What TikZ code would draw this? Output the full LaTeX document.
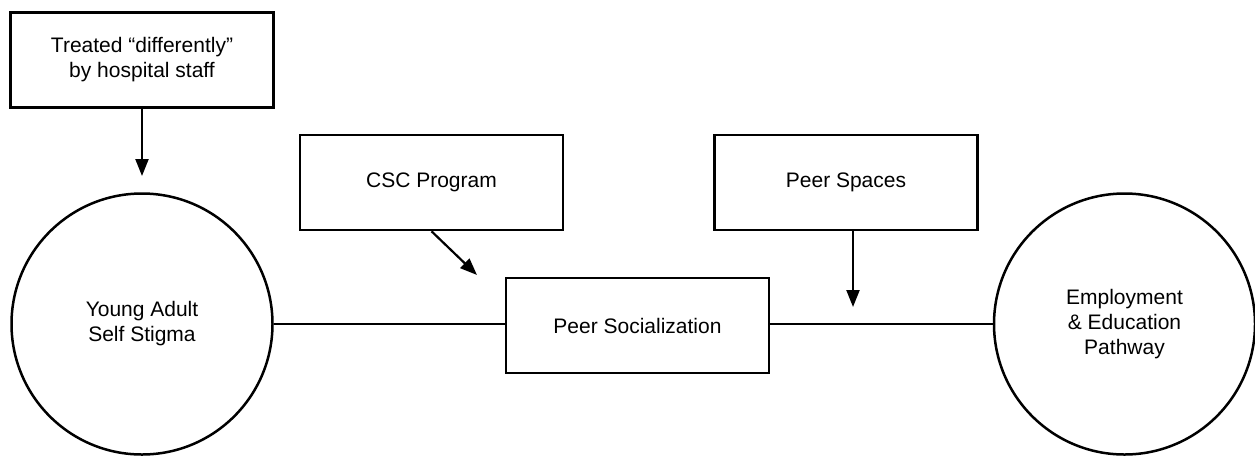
\documentclass[tikz,border=0pt]{standalone}
\usepackage{fontspec}
\setmainfont{Liberation Sans}
\usetikzlibrary{arrows.meta}
\begin{document}
\begin{tikzpicture}[x=1pt,y=-1pt,
  every node/.style={font=\fontsize{21}{25}\selectfont, align=center, inner sep=0pt},
  boxnode/.style={draw, line width=2.5pt, minimum width=263pt, minimum height=95pt},
  circnode/.style={draw, circle, line width=2.5pt, minimum size=261pt},
  link/.style={line width=2.2pt},
  arr/.style={line width=2.2pt, -{Triangle[length=17pt,width=13pt]}}]
\useasboundingbox (0,0) rectangle (1255,456);
\node[boxnode] (staff) at (142,60) {Treated “differently”\\by hospital staff};
\node[boxnode] (csc) at (431.5,182.5) {CSC Program};
\node[boxnode] (spaces) at (846,182.5) {Peer Spaces};
\node[boxnode] (soc) at (637.5,325.5) {Peer Socialization};
\node[circnode] (yas) at (142,324) {Young Adult\\Self Stigma};
\node[circnode] (emp) at (1124.5,324) {Employment\\\& Education\\Pathway};
\coordinate (e1) at (142,176);
\coordinate (e2) at (477,275);
\coordinate (e3) at (853,307);
\draw[link] (yas.east) -- (yas.east -| soc.west);
\draw[link] (soc.east |- emp.west) -- (emp.west);
\draw[arr] (staff.south) -- (e1);
\draw[arr] (csc.south) -- (e2);
\draw[arr] (e3 |- spaces.south) -- (e3);
\end{tikzpicture}
\end{document}
